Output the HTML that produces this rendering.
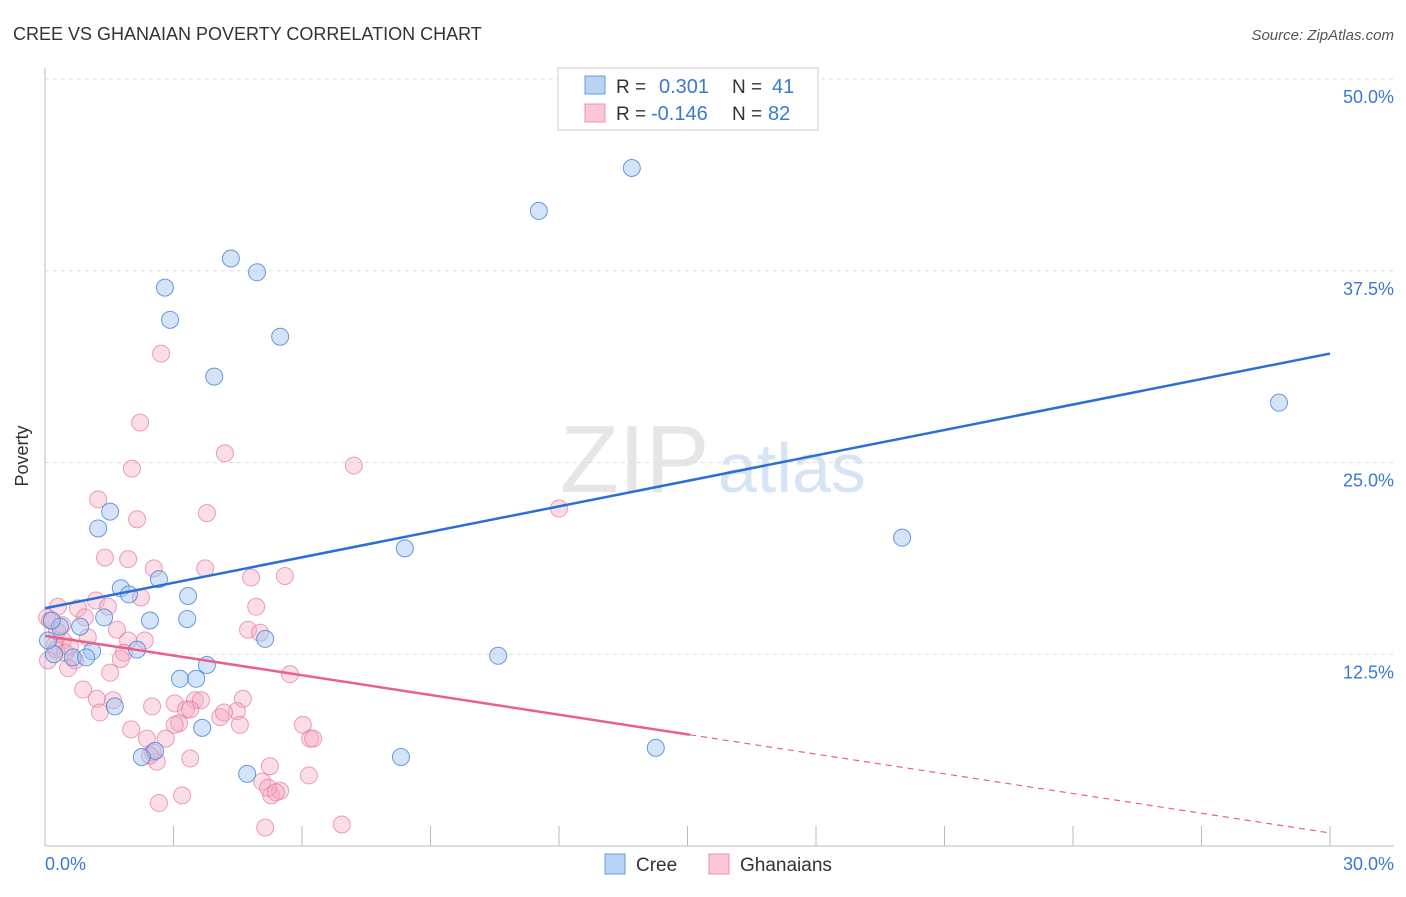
<!DOCTYPE html>
<html><head><meta charset="utf-8"><style>
body{margin:0;background:#fff;font-family:"Liberation Sans",sans-serif}
svg text{font-family:"Liberation Sans",sans-serif}
</style></head><body>
<svg id="chart" width="1406" height="892" viewBox="0 0 1406 892">
<text x="13" y="40" font-size="18" fill="#333">CREE VS GHANAIAN POVERTY CORRELATION CHART</text>
<text x="1394" y="40" font-size="15" fill="#555" font-style="italic" text-anchor="end">Source: ZipAtlas.com</text>
<text x="560" y="492" font-size="96" fill="#e6e6e6" font-family="Liberation Serif">ZIP</text>
<text x="718" y="492" font-size="70" fill="#d6e4f5">atlas</text>
<g id="grid"></g>
<line x1="45" y1="68" x2="45" y2="846" stroke="#bbb"/>
<line x1="45" y1="846" x2="1394" y2="846" stroke="#bbb"/>
<g id="ticks"></g>
<text x="28" y="456" font-size="18" fill="#333" text-anchor="middle" transform="rotate(-90 28 456)">Poverty</text>
<text x="45" y="870" font-size="18" fill="#3a78d8">0.0%</text>
<text x="1394" y="870" font-size="18" fill="#3a78d8" text-anchor="end">30.0%</text>
<g id="pts"></g>
<g id="lines"></g>
<g>
<rect x="558" y="68" width="260" height="62" fill="#fff" stroke="#ccc"/>
<rect x="585" y="76" width="20" height="18" fill="#b9d3f5" stroke="#6a9ae0"/>
<rect x="585" y="104" width="20" height="18" fill="#fbc6d6" stroke="#eb91ae"/>
<text x="616" y="93" font-size="19" fill="#333">R = </text><text x="659" y="93" font-size="20" fill="#3a78d8">0.301</text>
<text x="732" y="93" font-size="19" fill="#333">N = </text><text x="772" y="93" font-size="20" fill="#3a78d8">41</text>
<text x="616" y="120" font-size="19" fill="#333">R = </text><text x="651" y="120" font-size="20" fill="#3a78d8">-0.146</text>
<text x="732" y="120" font-size="19" fill="#333">N = </text><text x="768" y="120" font-size="20" fill="#3a78d8">82</text>
</g>
<g>
<rect x="605" y="854" width="20" height="20" fill="#b9d3f5" stroke="#6a9ae0"/>
<text x="636" y="871" font-size="19" fill="#333">Cree</text>
<rect x="709" y="854" width="20" height="20" fill="#fbc6d6" stroke="#eb91ae"/>
<text x="740" y="871" font-size="19" fill="#333">Ghanaians</text>
</g>
</svg>
<script>
const yTicks=[12.5,25,37.5,50];
const yTickLabels=["12.5%","25.0%","37.5%","50.0%"];
const xTicks=[3,6,9,12,15,18,21,24,27,30];
const creeX=[13.70,11.53,4.34,4.95,2.80,2.92,5.49,3.95,28.81,1.52,1.24,8.40,20.01,1.77,2.66,1.96,3.34,1.38,2.45,3.32,0.82,2.15,0.35,5.14,1.10,0.21,0.65,0.96,3.78,10.58,3.15,3.53,1.63,3.67,2.57,2.26,4.72,8.31,14.26,0.16,0.07];
const creeY=[44.2,41.4,38.3,37.4,36.4,34.3,33.2,30.6,28.9,21.8,20.7,19.4,20.1,16.8,17.4,16.4,16.3,14.9,14.7,14.8,14.3,12.8,14.3,13.5,12.7,12.5,12.3,12.3,11.8,12.4,10.9,10.9,9.1,7.7,6.2,5.8,4.7,5.8,6.4,14.7,13.4];
const ghX=[2.71,2.22,4.20,7.21,2.03,1.24,3.78,2.15,12.00,1.40,1.94,2.54,3.74,4.81,5.60,1.19,1.47,0.77,0.30,2.24,4.93,0.05,1.68,1.00,1.94,2.33,4.74,5.02,0.42,0.23,0.58,1.84,1.77,0.70,0.54,1.52,5.72,0.89,1.21,1.59,1.28,2.50,3.03,4.09,4.62,4.48,3.50,3.64,3.29,6.02,2.01,2.38,2.82,3.13,6.19,6.26,2.61,3.39,5.25,5.07,6.16,5.28,5.49,2.66,3.20,5.14,6.93,0.28,0.12,0.07,0.40,0.93,3.39,4.18,4.55,3.03,2.52,2.45,5.21,5.39,0.26,0.47];
const ghY=[32.1,27.6,25.6,24.8,24.6,22.6,21.7,21.3,22.0,18.8,18.7,18.1,18.1,17.5,17.6,16.0,15.6,15.5,15.6,16.2,15.6,14.9,14.1,13.6,13.4,13.4,14.1,13.9,13.4,13.1,13.0,12.6,12.2,12.1,11.6,11.3,11.2,10.2,9.6,9.5,8.7,9.1,9.3,8.4,9.6,8.8,9.5,9.5,8.9,7.9,7.6,7.0,7.0,8.0,7.0,7.0,5.5,5.7,5.2,4.2,4.6,3.3,3.6,2.8,3.3,1.2,1.4,14.0,14.7,12.1,14.4,14.9,8.9,8.7,7.9,7.9,6.1,5.9,3.8,3.5,12.8,12.6];
const creeTrend=[15.5,32.1];
const ghTrend=[13.7,0.85];
const ghSolidEnd=15.06;
const NS='http://www.w3.org/2000/svg';
const sx=v=>45+v/30*1285;
const sy=v=>846-v/50*767;
function mk(tag,attrs,parent){const e=document.createElementNS(NS,tag);for(const k in attrs)e.setAttribute(k,attrs[k]);document.getElementById(parent).appendChild(e);return e;}
yTicks.forEach((t,i)=>{
 const l=mk('line',{x1:45,x2:1394,y1:sy(t),y2:sy(t),stroke:'#ddd','stroke-dasharray':'4,4'},'grid');
 
 
 const tx=mk('text',{x:1394,y:sy(t)+24,'font-size':18,fill:'#3a78d8','text-anchor':'end'},'grid');
 tx.textContent=yTickLabels[i];
 
 
});
xTicks.forEach(t=>{
 const l=mk('line',{x1:sx(t),x2:sx(t),y1:826,y2:846,stroke:'#bbb'},'ticks');
 
 
});
ghX.forEach((x,i)=>{
 const c=mk('circle',{cx:sx(x),cy:sy(ghY[i]),r:8.5,fill:'rgba(245,170,195,0.4)',stroke:'rgba(230,120,155,0.7)','stroke-width':1},'pts');
 
 
});
creeX.forEach((x,i)=>{
 const c=mk('circle',{cx:sx(x),cy:sy(creeY[i]),r:8.5,fill:'rgba(160,195,240,0.45)',stroke:'rgba(70,130,215,0.8)','stroke-width':1},'pts');
 
 
});
const bl=mk('line',{x1:sx(0),y1:sy(creeTrend[0]),x2:sx(30),y2:sy(creeTrend[1]),stroke:'#2a6fd6','stroke-width':2.5},'lines');


const gAt=x=>ghTrend[0]+(ghTrend[1]-ghTrend[0])*x/30;
const pl=mk('line',{x1:sx(0),y1:sy(ghTrend[0]),x2:sx(ghSolidEnd),y2:sy(gAt(ghSolidEnd)),stroke:'#e8608e','stroke-width':2.5},'lines');


const pd=mk('line',{x1:sx(ghSolidEnd),y1:sy(gAt(ghSolidEnd)),x2:sx(30),y2:sy(ghTrend[1]),stroke:'#e8608e','stroke-width':1.2,'stroke-dasharray':'6,5'},'lines');


</script>
</body></html>
